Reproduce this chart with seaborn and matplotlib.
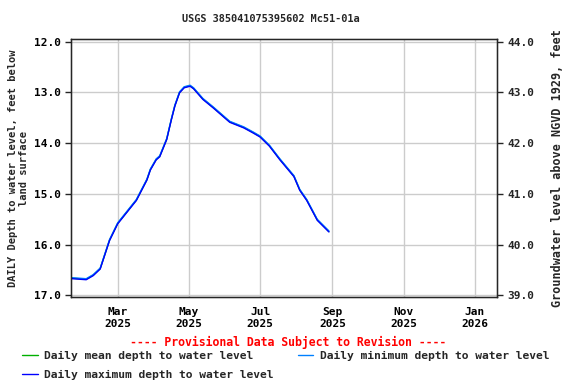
import numpy as np
import pandas as pd
import matplotlib
matplotlib.use("Agg")
import matplotlib.pyplot as plt
import matplotlib.dates as mdates
import seaborn as sns

# values
dates = ["2025-01-21", "2025-02-02", "2025-02-08", "2025-02-14", "2025-02-22", "2025-03-01",
         "2025-03-09", "2025-03-17", "2025-03-26", "2025-03-29", "2025-04-03", "2025-04-06",
         "2025-04-12", "2025-04-16", "2025-04-19", "2025-04-23", "2025-04-27", "2025-05-02",
         "2025-05-05", "2025-05-13", "2025-05-22", "2025-05-30", "2025-06-05", "2025-06-17",
         "2025-06-25", "2025-07-01", "2025-07-09", "2025-07-18", "2025-07-30", "2025-08-04",
         "2025-08-10", "2025-08-19", "2025-08-29"]
depth_mean = [16.66, 16.68, 16.60, 16.47, 15.91, 15.58,
              15.35, 15.12, 14.72, 14.52, 14.32, 14.26,
              13.92, 13.53, 13.26, 13.00, 12.90, 12.87,
              12.92, 13.13, 13.30, 13.46, 13.58, 13.69,
              13.79, 13.87, 14.05, 14.32, 14.65, 14.92,
              15.12, 15.51, 15.74]
depth_min = [d - 0.01 for d in depth_mean]
depth_max = [d + 0.01 for d in depth_mean]

df = pd.DataFrame({"date": pd.to_datetime(dates), "mean": depth_mean,
                   "min": depth_min, "max": depth_max})

sns.set_style("white")
plt.rcParams['font.family'] = ['DejaVu Sans Mono']
plt.rcParams['font.weight'] = 'bold'
fs = 8.1

fig = plt.figure(figsize=(5.76, 3.84), dpi=100)
ax = fig.add_axes([0.1233, 0.2266, 0.7395, 0.6718])

sns.lineplot(data=df, x="date", y="mean", ax=ax, color="#00b000", lw=1.0,
             label="Daily mean depth to water level")
sns.lineplot(data=df, x="date", y="min", ax=ax, color="#0080ff", lw=1.0,
             label="Daily minimum depth to water level")
sns.lineplot(data=df, x="date", y="max", ax=ax, color="#0000ff", lw=1.0,
             label="Daily maximum depth to water level")

ax.set_xlim(pd.Timestamp("2025-01-20"), pd.Timestamp("2026-01-20"))
ax.set_ylim(17.03, 11.95)
ax.set_yticks([12, 13, 14, 15, 16, 17])
ax.yaxis.set_major_formatter(matplotlib.ticker.FormatStrFormatter("%.1f"))
ax.xaxis.set_major_locator(mdates.MonthLocator(bymonth=[1, 3, 5, 7, 9, 11]))
ax.xaxis.set_major_formatter(mdates.DateFormatter("%b\n%Y"))
ax.grid(True, color="#cccccc", lw=1.0)
ax.tick_params(axis="both", labelsize=8, length=4, direction="out", width=1,
               labelcolor="black")
ax.set_xlabel("")
ax.set_ylabel("DAILY Depth to water level, feet below\nland surface", fontsize=7.5,
              fontweight="bold", labelpad=3)
for s in ax.spines.values():
    s.set_color("black")
    s.set_linewidth(1)

ax2 = ax.twinx()
lo, hi = ax.get_ylim()
ax2.set_ylim(56 - lo, 56 - hi)
ax2.set_yticks([39, 40, 41, 42, 43, 44])
ax2.yaxis.set_major_formatter(matplotlib.ticker.FormatStrFormatter("%.1f"))
ax2.tick_params(axis="y", labelsize=8, length=4, direction="out", width=1)
ax2.set_ylabel("Groundwater level above NGVD 1929, feet", fontsize=8.5, fontweight="bold",
               labelpad=12)

fig.text(0.47, 0.95, "USGS 385041075395602 Mc51-01a", ha="center", va="center",
         fontsize=7.4, fontweight="bold")
fig.text(0.5, 0.107, "---- Provisional Data Subject to Revision ----", ha="center",
         va="center", fontsize=8.3, fontweight="bold", color="red")

handles, labels = ax.get_legend_handles_labels()
ax.get_legend().remove()
fig.legend([handles[0], handles[2], handles[1]], [labels[0], labels[2], labels[1]],
           ncol=2, loc="upper left", bbox_to_anchor=(0.038, 0.086), frameon=False,
           fontsize=fs, handlelength=1.4, handletextpad=0.6, columnspacing=2.1,
           labelspacing=0.8, borderpad=0, borderaxespad=0)

fig.savefig("out.png", dpi=100)
